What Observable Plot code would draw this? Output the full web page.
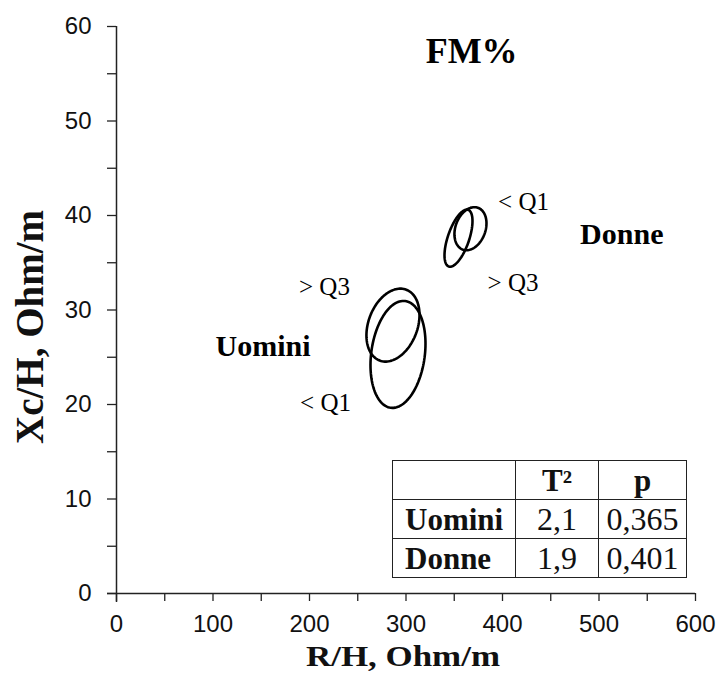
<!DOCTYPE html>
<html>
<head>
<meta charset="utf-8">
<script src="https://cdn.jsdelivr.net/npm/d3@7"></script>
<script src="https://cdn.jsdelivr.net/npm/@observablehq/plot@0.6"></script>
<style>
  body { margin: 0; background: #fff; }
  #wrap { position: relative; width: 717px; height: 679px; overflow: hidden; }
  #stats {
    position: absolute; left: 392px; top: 460px; width: 294px;
    border-collapse: collapse; table-layout: fixed;
    font-family: "Liberation Serif", serif; color: #111; background: #fff;
  }
  #stats td { border: 1.5px solid #222; padding: 0; height: 38px; line-height: 1; text-align: center; font-size: 32px; }
  #stats td.h { font-weight: bold; font-size: 31px; }
  #stats td.name { text-align: left; padding-left: 12px; }
</style>
</head>
<body>
<div id="wrap"></div>
<script>
// Confidence ellipses (R/H vs Xc/H) for the extreme FM% quartiles
const groups = ["Uomini", "Uomini", "Donne", "Donne"];
const quartiles = ["> Q3", "< Q1", "> Q3", "< Q1"];
const centreR = [286.5, 291.7, 354.4, 366.8];
const centreXc = [28.4, 25.3, 37.6, 38.6];
const halfR = [27.5, 28.5, 14.5, 16.6];
const halfXc = [3.86, 5.66, 3.02, 2.28];
const corr = [0.28, 0.2, 0.6, 0.25];

// Title, group names and quartile annotations
const labelText = ["FM%", "Uomini", "Donne", "> Q3", "< Q1", "< Q1", "> Q3"];
const labelR = [368, 151.8, 523.6, 215.5, 216.6, 421.8, 410.9];
const labelXc = [57.4, 26.2, 38.05, 32.4, 20.2, 41.4, 32.9];
const labelBold = [true, true, true, false, false, false, false];
const labelSize = [36, 30, 30, 25, 25, 25, 25];

// Hotelling test table
const tableHead = ["", "T²", "p"];
const tableRows = ["Uomini", "Donne"];
const tableT2 = ["2,1", "1,9"];
const tableP = ["0,365", "0,401"];

// Axis ticks and titles
const xTicks = d3.range(0, 601, 50);
const yTicks = d3.range(0, 61, 5);
const xTitle = "R/H, Ohm/m";
const yTitle = "Xc/H, Ohm/m";

// Outline of each ellipse from its centre, half-extents and correlation
const outline = [];
groups.forEach((g, i) => {
  const k = Math.sqrt(1 - corr[i] * corr[i]);
  for (let s = 0; s <= 120; s++) {
    const t = (s / 120) * 2 * Math.PI;
    outline.push({
      id: i,
      R: centreR[i] + halfR[i] * Math.cos(t),
      Xc: centreXc[i] + halfXc[i] * (corr[i] * Math.cos(t) + k * Math.sin(t))
    });
  }
});

const labels = labelText.map((t, i) => ({t, R: labelR[i], Xc: labelXc[i], bold: labelBold[i], size: labelSize[i]}));

const serif = "Liberation Serif, Times New Roman, serif";
const sans = "Liberation Sans, Arial, sans-serif";

const chart = Plot.plot({
  width: 717,
  height: 679,
  marginLeft: 116,
  marginRight: 22,
  marginTop: 26,
  marginBottom: 86,
  style: {background: "#fff", color: "#111"},
  x: {domain: [0, 600]},
  y: {domain: [0, 60]},
  marks: [
    Plot.axisX({ticks: xTicks, tickFormat: d => d % 100 ? "" : d, tickSize: 8, tickPadding: 13,
      fontSize: 24, fontFamily: sans, label: null, stroke: "#222", strokeWidth: 1.3}),
    Plot.axisY({ticks: yTicks, tickFormat: d => d % 10 ? "" : d, tickSize: 9, tickPadding: 16,
      fontSize: 24, fontFamily: sans, label: null, stroke: "#222", strokeWidth: 1.3}),
    Plot.ruleY([0], {stroke: "#222", strokeWidth: 1.5, insetLeft: -9}),
    Plot.ruleX([0], {stroke: "#222", strokeWidth: 1.5, insetBottom: -9}),
    Plot.line(outline, {x: "R", y: "Xc", z: "id", stroke: "#000", strokeWidth: 2.6, curve: "linear-closed"}),
    Plot.text(labels.filter(d => d.bold), {x: "R", y: "Xc", text: "t", fontSize: "size", fontWeight: "bold", fontFamily: serif, fill: "#000"}),
    Plot.text(labels.filter(d => !d.bold), {x: "R", y: "Xc", text: "t", fontSize: 25, fontFamily: serif, fill: "#000"}),
    Plot.text([xTitle], {frameAnchor: "bottom", dx: -3, dy: 72, fontSize: 30, fontWeight: "bold", fontFamily: serif, fill: "#111"}),
    Plot.text([yTitle], {frameAnchor: "left", textAnchor: "middle", dx: -86, dy: 17, rotate: -90, fontSize: 39, fontWeight: "bold", fontFamily: serif, fill: "#111"})
  ]
});

// The horizontal axis title is set in a wide, stretched face
d3.select(chart).selectAll("text")
  .filter(function () { return this.textContent === xTitle; })
  .attr("textLength", 194)
  .attr("lengthAdjust", "spacingAndGlyphs");

const wrap = document.getElementById("wrap");
wrap.appendChild(chart);

// Inset table of T² and p values
const table = document.createElement("table");
table.id = "stats";
const colgroup = document.createElement("colgroup");
["123px", "83px", "88px"].forEach(w => {
  const col = document.createElement("col");
  col.style.width = w;
  colgroup.appendChild(col);
});
table.appendChild(colgroup);
const head = table.insertRow();
tableHead.forEach(h => {
  const c = head.insertCell();
  c.textContent = h;
  c.className = "h";
});
tableRows.forEach((r, i) => {
  const row = table.insertRow();
  const a = row.insertCell(); a.textContent = r; a.className = "h name";
  const b = row.insertCell(); b.textContent = tableT2[i];
  const c = row.insertCell(); c.textContent = tableP[i];
});
wrap.appendChild(table);
</script>
</body>
</html>
